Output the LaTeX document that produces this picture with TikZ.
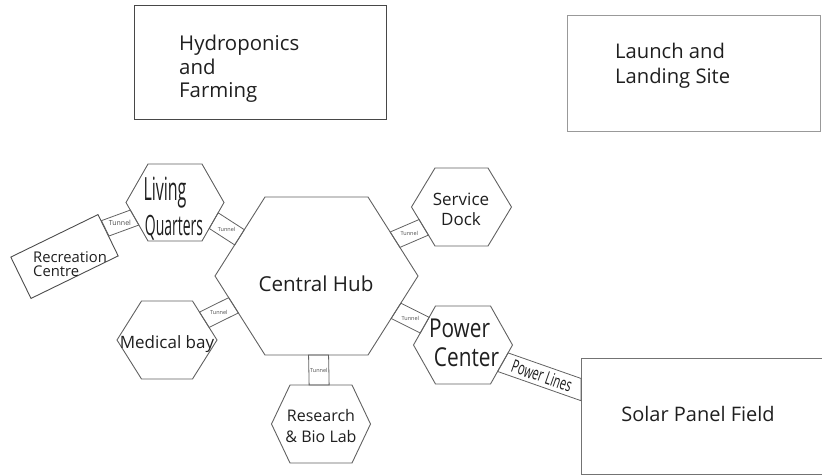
\documentclass[tikz,border=0pt]{standalone}
\usepackage{fontspec}
\setmainfont{Open Sans}
\newfontfamily\narrowA[FakeStretch=0.5]{Open Sans}
\newfontfamily\narrowB[FakeStretch=0.8]{Open Sans}
\newfontfamily\narrowC[FakeStretch=0.62]{Open Sans}
\usetikzlibrary{calc}

\tikzset{
  cellline/.style={draw=black!62, line width=0.9pt, line join=miter},
  tunnelline/.style={draw=black!62, line width=0.8pt},
  tunnellabel/.style={font=\fontsize{5.5}{6}\selectfont, text=black!70, inner sep=0pt},
  lbl/.style={text=black!88, inner sep=0pt},
  areabox/.style={line width=0.9pt, anchor=north west, inner sep=0pt},
}

% irregular flat-topped hexagon: name, centre x, centre y, half width, half top edge, half height
\newcommand\hexcell[6]{%
  \coordinate (#1-1) at ({#2-#5},{#3-#6});
  \coordinate (#1-2) at ({#2+#5},{#3-#6});
  \coordinate (#1-3) at ({#2+#4},{#3});
  \coordinate (#1-4) at ({#2+#5},{#3+#6});
  \coordinate (#1-5) at ({#2-#5},{#3+#6});
  \coordinate (#1-6) at ({#2-#4},{#3});
  \draw[cellline] (#1-1) -- (#1-2) -- (#1-3) -- (#1-4) -- (#1-5) -- (#1-6) -- cycle;
}

% straight tube between two ends, clipped to the two walls it joins
% id, end A, end B, wall at A (two points), wall at B (two points), half width
\newcommand\tube[8]{%
  \coordinate (#1ap) at ($(#2)!#8!90:(#3)$);
  \coordinate (#1bp) at ($(#3)!#8!-90:(#2)$);
  \coordinate (#1am) at ($(#2)!#8!-90:(#3)$);
  \coordinate (#1bm) at ($(#3)!#8!90:(#2)$);
  \draw[tunnelline] (intersection of #1ap--#1bp and #4--#5)
    -- (intersection of #1ap--#1bp and #6--#7)
    -- (intersection of #1am--#1bm and #6--#7)
    -- (intersection of #1am--#1bm and #4--#5) -- cycle;
}

\begin{document}
\begin{tikzpicture}[x=1pt,y=-1pt]
\useasboundingbox (0,0) rectangle (822,475);

% outlying areas
\node[areabox, draw=black!72, minimum width=252pt, minimum height=114pt] (hydrobox) at (134,5) {};
\node[lbl, anchor=west, align=left, font=\fontsize{20.4}{23.5}\selectfont] (hydro) at (179,69) {Hydroponics\\and\\Farming};

\node[areabox, draw=black!40, minimum width=253pt, minimum height=116pt] (launchbox) at (567,15) {};
\node[lbl, anchor=west, align=left, font=\fontsize{20.2}{25}\selectfont] (launch) at (615,66) {Launch and\\Landing Site};

\node[areabox, draw=black!55, minimum width=262pt, minimum height=116pt] (solar) at (581,358) {};
\node[lbl, font=\fontsize{20}{23}\selectfont] (solartext) at (698,414) {Solar Panel Field};

\node[draw=black!70, line width=0.9pt, inner sep=0pt, minimum width=97pt, minimum height=46pt, rotate=26] (rec) at (64.5,256.5) {};
\node[lbl, anchor=west, align=left, font=\fontsize{14.8}{14.5}\selectfont] (rectext) at (33,264) {Recreation\\Centre};

% modules
\hexcell{hub}{316.5}{276}{101.5}{51.5}{79}
\hexcell{lq}{175}{202.5}{49}{27}{38.5}
\hexcell{sd}{461.5}{207}{50}{26.5}{39}
\hexcell{pc}{463}{345}{49.5}{27.5}{39}
\hexcell{mb}{167}{340}{50}{25.5}{39}
\hexcell{rb}{321}{424}{49.5}{31}{39}

\node[lbl, anchor=base, font=\fontsize{20.6}{22}\selectfont] (hub) at (316,291) {Central Hub};
\node[lbl, anchor=base, font=\narrowA\fontsize{32}{32}\selectfont] (living) at (165,200) {Living};
\node[lbl, anchor=base, font=\narrowA\fontsize{28}{28}\selectfont] (quarters) at (174,235) {Quarters};
\node[lbl, align=center, font=\fontsize{17}{20}\selectfont] (sdtext) at (461,209) {Service\\Dock};
\node[lbl, anchor=base, font=\narrowB\fontsize{26}{26}\selectfont] (power) at (459.5,337) {Power};
\node[lbl, anchor=base, font=\narrowB\fontsize{26}{26}\selectfont] (center) at (466.5,366) {Center};
\node[lbl, anchor=base, font=\fontsize{17}{20}\selectfont] (mbtext) at (167,348) {Medical bay};
\node[lbl, align=center, font=\fontsize{16}{21}\selectfont] (rbtext) at (321,426) {Research\\\& Bio Lab};

% wall points of the tunnels
\coordinate (recA) at (rec.north east);
\coordinate (recB) at (rec.south east);
\coordinate (solA) at (solar.north west);
\coordinate (solB) at (solar.south west);

\coordinate (t1a) at ($(recA)!0.34!(recB)$);
\coordinate (t1b) at ($(lq-6)!0.39!(lq-5)$);
\coordinate (t2a) at ($(lq-3)!0.47!(lq-4)$);
\coordinate (t2b) at ($(hub-6)!0.49!(hub-1)$);
\coordinate (t3a) at ($(hub-2)!0.54!(hub-3)$);
\coordinate (t3b) at ($(sd-6)!0.52!(sd-5)$);
\coordinate (t4a) at ($(hub-3)!0.44!(hub-4)$);
\coordinate (t4b) at ($(pc-6)!0.51!(pc-1)$);
\coordinate (t5a) at ($(hub-6)!0.37!(hub-5)$);
\coordinate (t5b) at ($(mb-2)!0.48!(mb-3)$);
\coordinate (t6a) at ($(hub-5)!0.52!(hub-4)$);
\coordinate (t6b) at ($(rb-1)!0.47!(rb-2)$);
\coordinate (p1) at ($(pc-3)!0.44!(pc-4)$);
\coordinate (p2) at ($(solA)!0.27!(solB)$);

% tunnels
\tube{t1}{t1a}{t1b}{recA}{recB}{lq-6}{lq-5}{8.5pt}
\tube{t2}{t2a}{t2b}{lq-3}{lq-4}{hub-6}{hub-1}{9pt}
\tube{t3}{t3a}{t3b}{hub-2}{hub-3}{sd-6}{sd-5}{9pt}
\tube{t4}{t4a}{t4b}{hub-3}{hub-4}{pc-6}{pc-1}{9pt}
\tube{t5}{t5a}{t5b}{hub-6}{hub-5}{mb-2}{mb-3}{9pt}
\tube{t6}{t6a}{t6b}{hub-5}{hub-4}{rb-1}{rb-2}{10pt}
\tube{pl}{p1}{p2}{pc-3}{pc-4}{solA}{solB}{10.5pt}

\node[tunnellabel, font=\fontsize{7}{8}\selectfont] (t1l) at ($(t1a)!0.5!(t1b)$) {Tunnel};
\node[tunnellabel] (t2l) at ($(t2a)!0.5!(t2b)$) {Tunnel};
\node[tunnellabel] (t3l) at ($(t3a)!0.5!(t3b)$) {Tunnel};
\node[tunnellabel] (t4l) at ($(t4a)!0.5!(t4b)$) {Tunnel};
\node[tunnellabel] (t5l) at ($(t5a)!0.5!(t5b)$) {Tunnel};
\node[tunnellabel] (t6l) at ($(t6a)!0.5!(t6b)$) {Tunnel};
\path (p1) -- node[lbl, sloped, font=\narrowC\fontsize{18}{18}\selectfont] (pltext) {Power Lines} (p2);
\end{tikzpicture}
\end{document}
